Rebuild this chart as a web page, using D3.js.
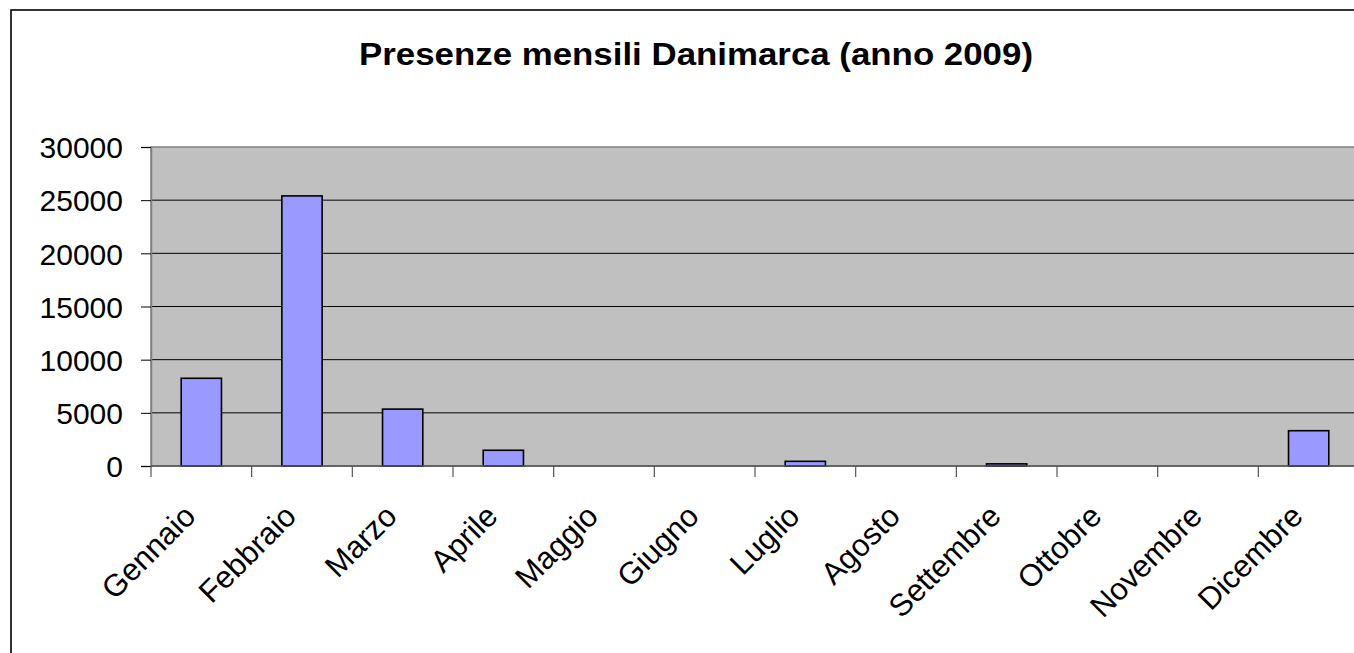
<!doctype html>
<html lang="it">
<head>
<meta charset="utf-8">
<script src="https://d3js.org/d3.v7.min.js"></script>
<style>
  body { margin: 0; background: #fff; }
  svg { display: block; font-family: "Liberation Sans", Arial, sans-serif; }
  .title { font-weight: bold; font-size: 31px; text-anchor: middle; }
  .ylab { font-size: 30px; text-anchor: end; }
  .xlab { font-size: 31px; text-anchor: end; }
  .bar { fill: #9999ff; stroke: #000; stroke-width: 1.6; }
</style>
</head>
<body>
<div id="chart"></div>
<script>
  // presenze mensili
  let months = ["Gennaio", "Febbraio", "Marzo", "Aprile", "Maggio", "Giugno",
                "Luglio", "Agosto", "Settembre", "Ottobre", "Novembre", "Dicembre"];
  let values = [8250, 25400, 5350, 1480, 0, 0, 440, 0, 200, 0, 0, 3320];
  let yTicks = [0, 5000, 10000, 15000, 20000, 25000, 30000];
  let title = "Presenze mensili Danimarca (anno 2009)";

  let W = 1354, H = 653;
  let plot = {left: 151, right: 1359, top: 147, bottom: 466};

  let svg = d3.select("#chart").append("svg")
      .attr("width", W).attr("height", H);

  // cornice del grafico (esce dalla finestra a destra e in basso)
  svg.append("rect")
     .attr("x", 11).attr("y", 10)
     .attr("width", 1400).attr("height", 700)
     .attr("fill", "#fff").attr("stroke", "#000").attr("stroke-width", 1.6);

  svg.append("text").attr("class", "title")
     .attr("x", 696).attr("y", 65)
     .attr("textLength", 674).attr("lengthAdjust", "spacingAndGlyphs")
     .text(title);

  let xScale = d3.scaleBand().domain(months)
      .range([plot.left, plot.right]).paddingInner(0.6).paddingOuter(0.3);
  let yScale = d3.scaleLinear().domain([0, 30000])
      .range([plot.bottom, plot.top]);

  // area del grafico
  svg.append("rect")
     .attr("x", plot.left).attr("y", plot.top)
     .attr("width", plot.right - plot.left).attr("height", plot.bottom - plot.top)
     .attr("fill", "#c0c0c0").attr("stroke", "#808080").attr("stroke-width", 1.5);

  // griglia
  svg.selectAll(".grid").data(yTicks.filter(d => d > 0 && d < 30000))
     .enter().append("line")
     .attr("x1", plot.left).attr("x2", plot.right)
     .attr("y1", d => yScale(d)).attr("y2", d => yScale(d))
     .attr("stroke", "#000").attr("stroke-width", 1);

  // asse y
  let yAxis = svg.append("g")
      .attr("transform", `translate(${plot.left},0)`)
      .call(d3.axisLeft(yScale).tickValues(yTicks).tickFormat(d3.format("d"))
              .tickSize(10).tickPadding(18));
  yAxis.select(".domain").attr("stroke", "#808080").attr("stroke-width", 1.5);
  yAxis.selectAll(".tick line").attr("stroke", "#000").attr("stroke-width", 1);
  yAxis.selectAll(".tick text").attr("class", "ylab")
       .attr("font-family", null).attr("font-size", null).attr("fill", "#000")
       .attr("dy", "0.36em");

  // barre
  svg.selectAll(".bar").data(values).enter().append("rect")
     .attr("class", "bar")
     .attr("x", (d, i) => xScale(months[i]))
     .attr("width", xScale.bandwidth())
     .attr("y", d => yScale(d))
     .attr("height", d => plot.bottom - yScale(d))
     .style("display", d => d > 0 ? null : "none");

  // asse x
  let bounds = d3.range(months.length + 1).map(i => plot.left + i * (plot.right - plot.left) / months.length);
  svg.append("line")
     .attr("x1", plot.left).attr("x2", plot.right)
     .attr("y1", plot.bottom).attr("y2", plot.bottom)
     .attr("stroke", "#555").attr("stroke-width", 1.5);
  svg.selectAll(".xtick").data(bounds).enter().append("line")
     .attr("x1", d => d).attr("x2", d => d)
     .attr("y1", plot.bottom).attr("y2", plot.bottom + 11)
     .attr("stroke", "#555").attr("stroke-width", 1.2);

  svg.selectAll(".xlab").data(months).enter().append("text")
     .attr("class", "xlab")
     .attr("transform", d => {
        let cx = xScale(d) + xScale.bandwidth() / 2;
        return `translate(${cx - 4},${plot.bottom + 52}) rotate(-45)`;
     })
     .text(d => d);
</script>
</body>
</html>
